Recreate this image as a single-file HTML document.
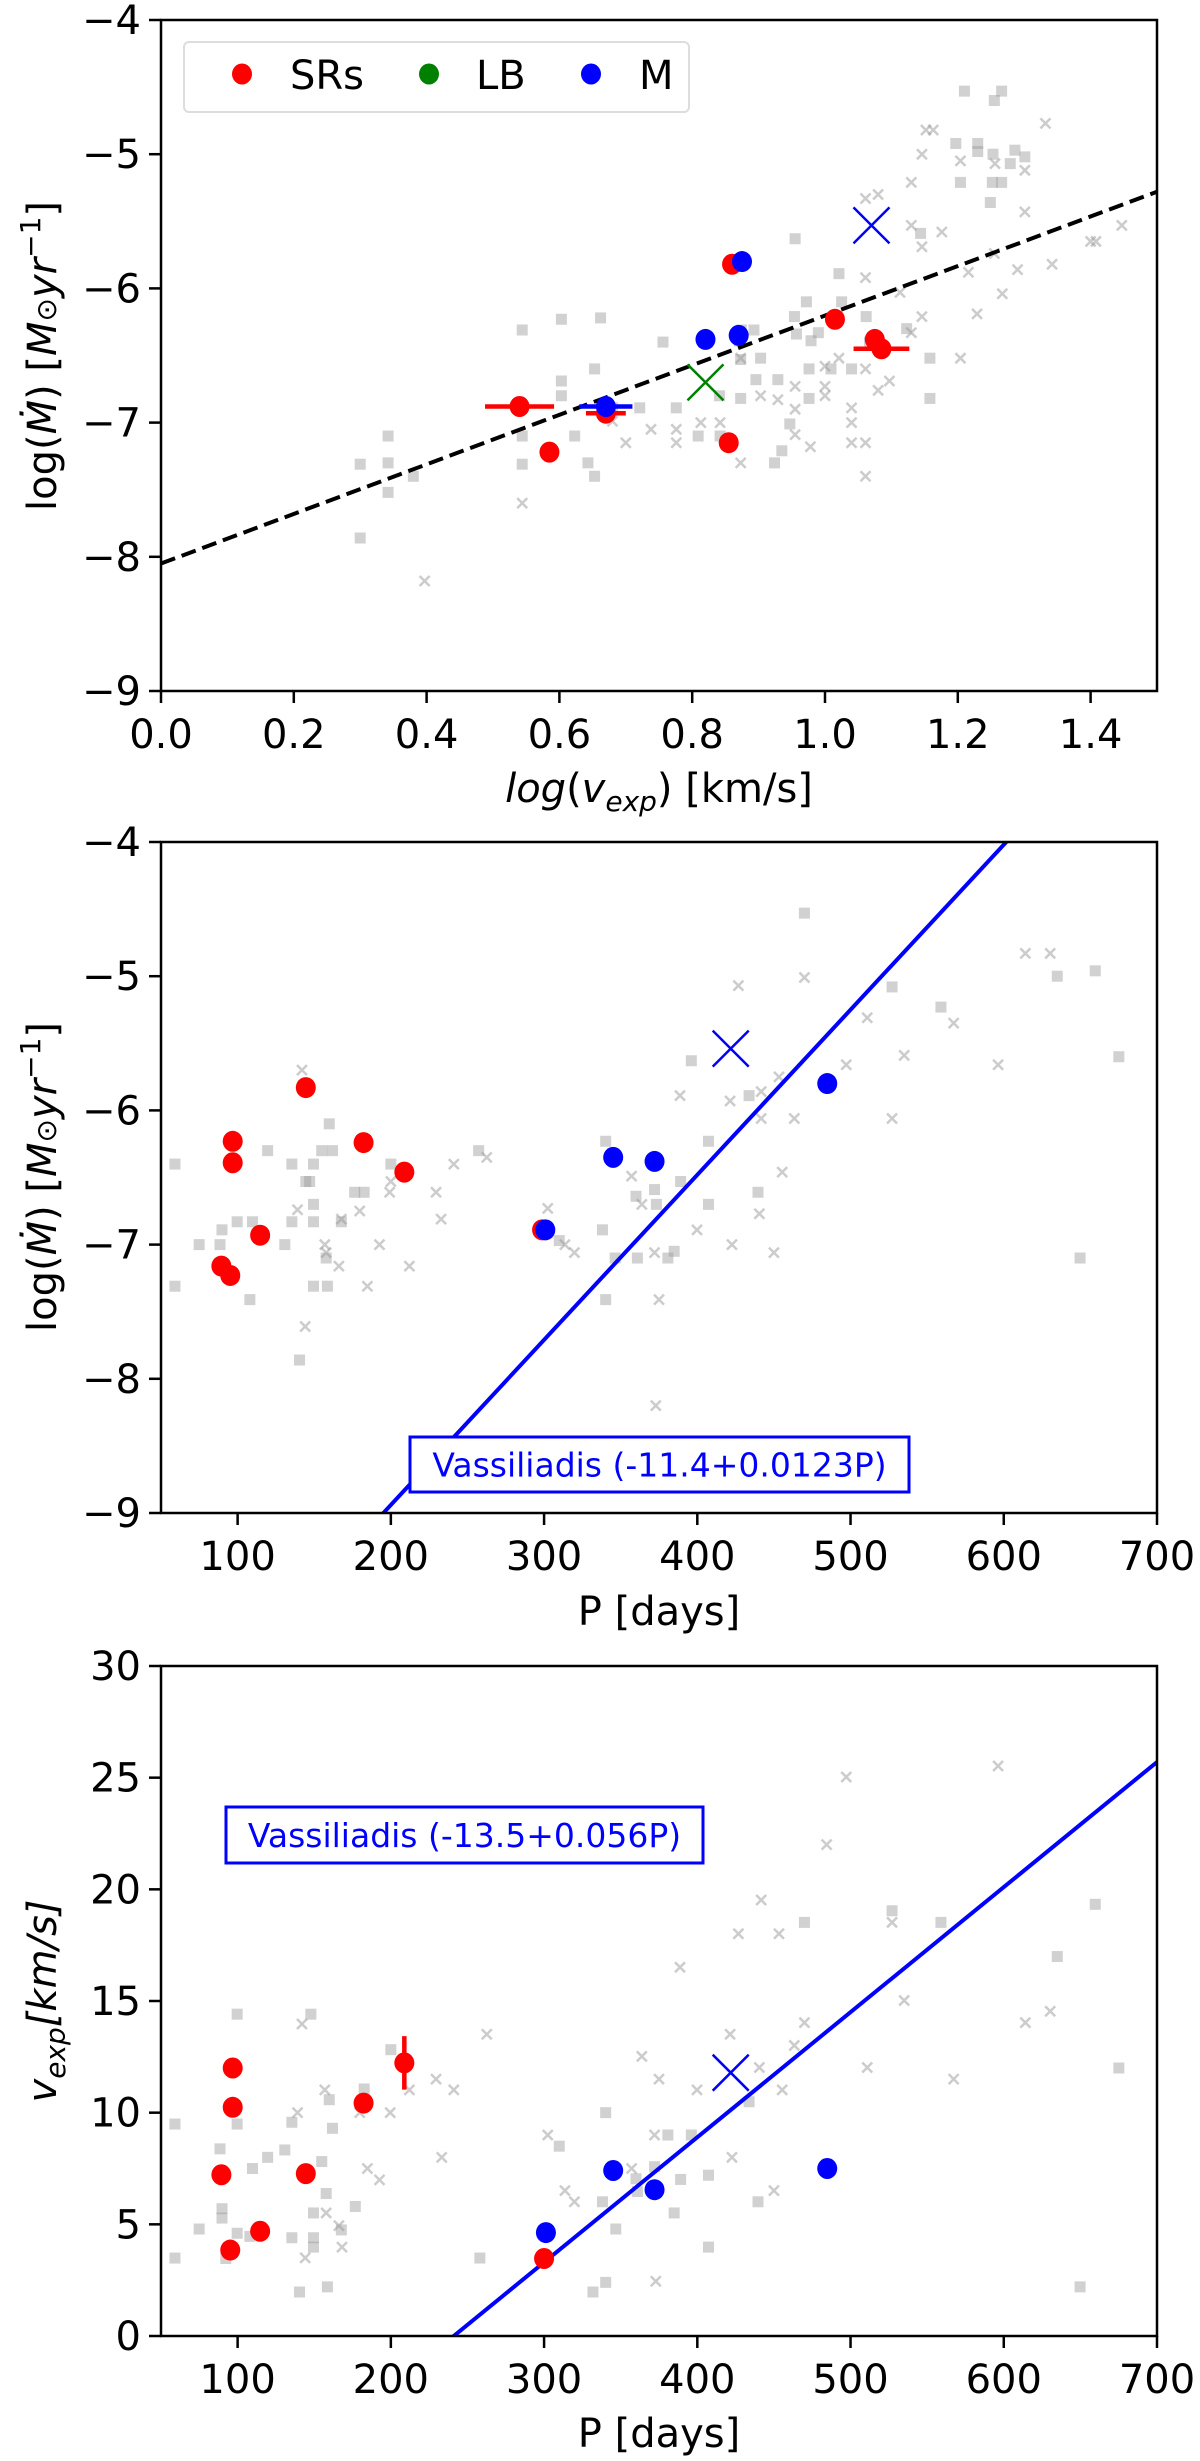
<!DOCTYPE html>
<html><head><meta charset="utf-8"><style>
html,body{margin:0;padding:0;background:#fff;}
svg{display:block;font-family:"DejaVu Sans","Liberation Sans",sans-serif;}
</style></head>
<body>
<svg id="fig" width="1200" height="2461" viewBox="0 0 1200 2461" xmlns="http://www.w3.org/2000/svg"></svg>
<script>
// ---------- Panel 1 data: log(vexp) vs log(Mdot) ----------
const p1GrayBoxX=[0.30,0.30,0.342,0.342,0.342,0.38,0.544,0.544,0.544,0.603,0.603,0.603,0.623,0.643,0.653,0.653,0.662,0.68,0.721,0.756,0.776,0.809,0.841,0.842,0.871,0.873,0.873,0.874,0.893,0.903,0.896,0.924,0.929,0.935,0.947,0.955,0.954,0.972,0.976,0.976,0.979,1.009,1.021,1.025,1.04,1.062,1.067,1.123,1.158,1.158,1.21,1.255,1.266,1.197,1.23,1.23,1.253,1.252,1.266,1.249,1.279,1.286,1.301,1.204,0.957,0.99,1.144];
const p1GrayBoxY=[-7.31,-7.86,-7.10,-7.30,-7.52,-7.40,-6.31,-7.10,-7.31,-6.23,-6.69,-6.80,-7.10,-7.30,-7.40,-6.60,-6.22,-6.89,-6.89,-6.40,-6.89,-7.10,-6.80,-7.10,-6.39,-6.53,-6.82,-6.31,-6.31,-6.52,-6.68,-7.30,-6.68,-7.21,-7.01,-5.63,-6.21,-6.10,-6.60,-6.82,-6.39,-6.60,-5.89,-6.10,-6.60,-6.21,-6.40,-6.30,-6.52,-6.82,-4.53,-4.60,-4.53,-4.92,-4.92,-4.98,-5.00,-5.21,-5.21,-5.36,-5.07,-4.97,-5.02,-5.21,-6.34,-6.33,-5.59];
const p1GrayCrossX=[0.397,0.544,0.68,0.70,0.738,0.776,0.776,0.813,0.842,0.873,0.873,0.903,0.929,0.955,0.955,0.955,0.978,1.0,1.0,1.0,1.021,1.04,1.04,1.04,1.061,1.061,1.061,1.061,1.061,1.08,1.08,1.097,1.113,1.13,1.13,1.13,1.146,1.146,1.146,1.152,1.163,1.176,1.204,1.204,1.216,1.229,1.255,1.256,1.267,1.29,1.301,1.301,1.332,1.342,1.40,1.408,1.447];
const p1GrayCrossY=[-8.18,-7.60,-6.99,-7.15,-7.05,-7.05,-7.15,-7.00,-7.00,-7.30,-6.52,-6.80,-6.83,-6.73,-6.90,-7.09,-7.18,-6.73,-6.80,-6.58,-6.52,-6.89,-7.00,-7.15,-7.15,-7.40,-6.60,-5.92,-5.33,-5.30,-6.76,-6.69,-6.03,-5.21,-5.53,-6.33,-5.00,-5.69,-6.21,-4.82,-4.82,-5.58,-5.05,-6.52,-5.88,-6.19,-5.74,-5.07,-6.04,-5.86,-5.12,-5.43,-4.77,-5.82,-5.65,-5.65,-5.53];
const p1SRx=[0.54,0.585,0.67,0.86,0.855,1.015,1.075,1.085];
const p1SRy=[-6.88,-7.22,-6.93,-5.82,-7.15,-6.23,-6.38,-6.45];
const p1SRxerr=[0.052,0,0.03,0,0,0,0,0.042];
const p1Mx=[0.67,0.82,0.87,0.875];
const p1My=[-6.88,-6.38,-6.35,-5.80];
const p1Mxerr=[0.04,0,0,0];
const p1BlueCross=[1.07,-5.53];
const p1GreenCross=[0.82,-6.70];
const p1Fit=[-8.05,1.847]; // intercept, slope
const p1XTicks=[0,0.2,0.4,0.6,0.8,1.0,1.2,1.4];
const p1XTickLabels=["0.0","0.2","0.4","0.6","0.8","1.0","1.2","1.4"];
const p1YTicks=[-9,-8,-7,-6,-5,-4];
const p1YTickLabels=["\u22129","\u22128","\u22127","\u22126","\u22125","\u22124"];

// ---------- Panel 2 data: P vs log(Mdot) ----------
const p2GrayBoxX=[59.1,59.1,74.9,88.5,89.8,99.7,108,109.7,119.6,130.8,135.4,135.4,140.4,144.5,147,149.5,149.5,149.5,149.5,154.9,158.6,159.8,161.9,157.8,167.7,176.4,182.6,200,257.3,309.9,338.1,340.2,340.2,346.4,360,360.9,372.1,373.3,380.8,384.9,389.1,396.1,407.3,407.3,433.8,439.6,469.9,527.1,559,634.9,659.7,649.8,675.1];
const p2GrayBoxY=[-6.40,-7.31,-7.00,-7.00,-6.89,-6.83,-7.41,-6.83,-6.30,-7.00,-6.40,-6.83,-7.86,-6.53,-6.53,-6.40,-6.70,-6.83,-7.31,-6.30,-7.31,-6.10,-6.30,-7.10,-6.83,-6.61,-6.61,-6.40,-6.30,-6.97,-6.89,-6.23,-7.41,-7.10,-6.64,-7.10,-6.59,-6.70,-7.10,-7.05,-6.53,-5.63,-6.23,-6.70,-5.89,-6.61,-4.53,-5.08,-5.23,-5.00,-4.96,-7.10,-5.60];
const p2GrayCrossX=[142,139.1,156.9,157.8,166.1,167.7,179.7,184.7,192.6,199.2,200,212.1,229.5,232.8,241.1,262.6,144.1,302.4,313.6,319.8,357.1,363.8,372.1,375,372.9,388.7,399.8,421.4,422.6,426.8,440.5,441.7,441.7,450,453.3,455.4,463.3,469.9,497.2,510.9,527.1,535,567.3,596.3,614.1,630.3];
const p2GrayCrossY=[-5.70,-6.74,-7.00,-7.06,-7.16,-6.81,-6.75,-7.31,-7.00,-6.61,-6.53,-7.16,-6.61,-6.81,-6.40,-6.35,-7.61,-6.73,-7.00,-7.06,-6.49,-6.70,-7.06,-7.41,-8.20,-5.89,-6.89,-5.93,-7.00,-5.07,-6.77,-5.86,-6.06,-7.06,-5.75,-6.46,-6.06,-5.01,-5.66,-5.31,-6.06,-5.59,-5.35,-5.66,-4.83,-4.83];
const p2SRx=[96.8,96.8,144.5,182.2,208.8,114.7,89.4,95.2,298.7];
const p2SRy=[-6.23,-6.39,-5.83,-6.24,-6.46,-6.93,-7.16,-7.23,-6.89];
const p2Mx=[300.8,345.1,372.1,484.8];
const p2My=[-6.89,-6.35,-6.38,-5.80];
const p2BlueCross=[421.8,-5.54];
const p2Fit=[-11.4,0.0123];
const pXTicks=[100,200,300,400,500,600,700];
const pXTickLabels=["100","200","300","400","500","600","700"];

// ---------- Panel 3 data: P vs vexp ----------
const p3GrayBoxX=[59.1,59.1,74.9,88.5,89.8,89.8,92.3,99.7,99.7,99.7,108,109.7,119.6,130.8,135.4,135.4,140.4,147.8,149.5,149.5,149.5,154.9,157.8,158.6,159.8,161.9,167.7,176.8,182.6,200,258.1,309.9,331.9,338.1,340.2,340.2,346.8,360,360.9,372.1,380.8,384.9,389.1,396.1,407.3,407.3,433.8,439.6,469.9,527.1,559,634.9,659.7,649.8,675.1];
const p3GrayBoxY=[9.49,3.49,4.79,8.38,5.70,5.28,3.47,14.41,9.49,4.60,4.46,7.50,8.00,8.33,9.57,4.40,1.97,14.41,5.51,4.40,3.98,7.81,6.38,2.20,10.58,9.30,4.75,5.80,11.06,12.82,3.49,8.50,1.97,6.01,10.0,2.40,4.79,7.04,6.47,7.58,9.0,5.51,7.01,9.0,7.20,3.98,10.49,6.01,18.52,19.04,18.52,16.99,19.33,2.20,12.0];
const p3GrayCrossX=[142,139.1,156.9,157.8,166.1,168.1,179.7,184.7,192.6,199.6,212.1,229.5,233.2,241.1,262.6,144.1,302.4,313.6,319.8,357.1,363.8,372.1,375,372.9,388.7,399.8,421.4,422.6,426.8,440.5,441.7,450,453.3,455.4,463.3,469.9,484.4,497.2,510.9,527.1,535,567.3,596.3,614.1,630.3];
const p3GrayCrossY=[13.97,10.0,11.02,5.51,4.94,3.98,10.0,7.50,6.99,10.0,11.02,11.5,8.0,11.02,13.51,3.50,9.0,6.51,6.01,7.50,12.52,9.0,11.5,2.45,16.51,11.02,13.51,8.0,18.01,12.02,19.52,6.51,18.01,11.02,13.01,14.03,22.0,25.03,12.02,18.52,15.02,11.5,25.52,14.03,14.54];
const p3SRx=[96.8,96.8,89.4,144.5,114.7,95.2,182.2,208.8,300];
const p3SRy=[12.0,10.24,7.22,7.27,4.69,3.85,10.43,12.23,3.47];
const p3SRyerr=[0,0,0,0,0,0,0,1.2,0];
const p3Mx=[301.2,345.1,372.1,484.8];
const p3My=[4.63,7.41,6.55,7.50];
const p3BlueCross=[421.8,11.79];
const p3Fit=[-13.5,0.056];
const p3YTicks=[0,5,10,15,20,25,30];
const p3YTickLabels=["0","5","10","15","20","25","30"];

const NS="http://www.w3.org/2000/svg";
const svg=document.getElementById('fig');
function el(tag,attrs,parent){const e=document.createElementNS(NS,tag);for(const k in attrs)e.setAttribute(k,attrs[k]);(parent||svg).appendChild(e);return e;}

function makeAxes(name,x0,x1,y0,y1,xmin,xmax,ymin,ymax){
  const g=el('g',{});
  
  
  const clipId=name+'-clip';
  const cp=el('clipPath',{id:clipId},g);
  el('rect',{x:x0,y:y0,width:x1-x0,height:y1-y0},cp);
  const plot=el('g',{'clip-path':'url(#'+clipId+')'},g);
  
  
  return {g,plot,x0,x1,y0,y1,
    sx:v=>x0+(v-xmin)/(xmax-xmin)*(x1-x0),
    sy:v=>y1-(v-ymin)/(ymax-ymin)*(y1-y0),xmin,xmax,ymin,ymax};
}
function frame(A){
  const r=el('rect',{x:A.x0,y:A.y0,width:A.x1-A.x0,height:A.y1-A.y0,fill:'none',stroke:'#000','stroke-width':2.5},A.g);
  
  
}
function xTicks(A,ticks,labels){
  ticks.forEach((t,i)=>{
    const x=A.sx(t);
    const l=el('line',{x1:x,x2:x,y1:A.y1,y2:A.y1+12,stroke:'#000','stroke-width':2.5},A.g);
    
    
    const tx=el('text',{x:x,y:A.y1+57,'text-anchor':'middle','font-size':40,fill:'#000'},A.g);
    
    
    tx.textContent=labels[i];
  });
}
function yTicks(A,ticks,labels){
  ticks.forEach((t,i)=>{
    const y=A.sy(t);
    const l=el('line',{x1:A.x0-12,x2:A.x0,y1:y,y2:y,stroke:'#000','stroke-width':2.5},A.g);
    
    
    const tx=el('text',{x:A.x0-20,y:y+14,'text-anchor':'end','font-size':40,fill:'#000'},A.g);
    
    
    tx.textContent=labels[i];
  });
}
function grayBoxes(A,xs,ys){
  xs.forEach((x,i)=>{
    const r=el('rect',{x:A.sx(x)-5.5,y:A.sy(ys[i])-5.5,width:11,height:11,fill:'#999','fill-opacity':0.45},A.plot);
    
    
  });
}
function grayCrosses(A,xs,ys){
  xs.forEach((x,i)=>{
    const cx=A.sx(x),cy=A.sy(ys[i]),s=5;
    const p=el('path',{d:`M${cx-s},${cy-s}L${cx+s},${cy+s}M${cx-s},${cy+s}L${cx+s},${cy-s}`,stroke:'#999','stroke-opacity':0.5,'stroke-width':2.5,fill:'none'},A.plot);
    
    
  });
}
function dots(A,xs,ys,color,name,xerr,yerr){
  xs.forEach((x,i)=>{
    const cx=A.sx(x),cy=A.sy(ys[i]);
    if(xerr&&xerr[i]>0){
      const e=el('line',{x1:A.sx(x-xerr[i]),x2:A.sx(x+xerr[i]),y1:cy,y2:cy,stroke:color,'stroke-width':4.5},A.plot);
      
      
    }
    if(yerr&&yerr[i]>0){
      const e=el('line',{x1:cx,x2:cx,y1:A.sy(ys[i]-yerr[i]),y2:A.sy(ys[i]+yerr[i]),stroke:color,'stroke-width':4.5},A.plot);
      
      
    }
    const c=el('ellipse',{cx:cx,cy:cy,rx:10,ry:10.5,fill:color},A.plot);
    
    
  });
}
function bigCross(A,pt,color,name){
  const cx=A.sx(pt[0]),cy=A.sy(pt[1]),sx=18,sy=18;
  const p=el('path',{d:`M${cx-sx},${cy-sy}L${cx+sx},${cy+sy}M${cx-sx},${cy+sy}L${cx+sx},${cy-sy}`,stroke:color,'stroke-width':2.5,fill:'none'},A.plot);
  
  
}
function fitLine(A,fit,style,name){
  const a=el('line',Object.assign({x1:A.sx(A.xmin),y1:A.sy(fit[0]+fit[1]*A.xmin),x2:A.sx(A.xmax),y2:A.sy(fit[0]+fit[1]*A.xmax)},style),A.plot);
  
  
}
function mdotLabel(cy){
  const t=el('text',{transform:`translate(56,${cy}) rotate(-90)`,'text-anchor':'middle','font-size':40,fill:'#000'});
  
  
  t.innerHTML='log(<tspan font-style="italic">Ṁ</tspan>) [<tspan font-style="italic">M</tspan><tspan font-size="28">⊙</tspan><tspan font-style="italic">yr</tspan><tspan font-size="28" dy="-16">−1</tspan><tspan dy="16">]</tspan>';
}
function xTitle(x,y,html){
  const t=el('text',{x:x,y:y,'text-anchor':'middle','font-size':40,fill:'#000'});
  
  
  t.innerHTML=html;
}
function fitBox(x,y,w,h,text){
  const r=el('rect',{x:x,y:y,width:w,height:h,fill:'#fff',stroke:'#0000ff','stroke-width':3});
  
  
  const t=el('text',{x:x+w/2,y:y+h/2+12,'text-anchor':'middle','font-size':33,fill:'#0000ff'});
  
  
  t.textContent=text;
}

// ===== Panel 1 =====
const A1=makeAxes('panel-mdot-vs-vexp',161,1157,20,691,0,1.5,-9,-4);
grayBoxes(A1,p1GrayBoxX,p1GrayBoxY);
grayCrosses(A1,p1GrayCrossX,p1GrayCrossY);
fitLine(A1,p1Fit,{stroke:'#000','stroke-width':4,'stroke-dasharray':'15,7'},'dashed-fit-line');
dots(A1,p1SRx,p1SRy,'#ff0000','sr',p1SRxerr,null);
dots(A1,p1Mx,p1My,'#0000ff','mira',p1Mxerr,null);
bigCross(A1,p1BlueCross,'#0000ff','mira-cross-marker');
bigCross(A1,p1GreenCross,'#008000','lb-cross-marker');
frame(A1);
xTicks(A1,p1XTicks,p1XTickLabels);
yTicks(A1,p1YTicks,p1YTickLabels);
mdotLabel(356);
xTitle(659,802,'<tspan font-style="italic">log</tspan>(<tspan font-style="italic">v</tspan><tspan font-style="italic" font-size="28" dy="9">exp</tspan><tspan dy="-9">) [km/s]</tspan>');
// legend
(function(){
  const lg=el('g',{});
  
  
  const r=el('rect',{x:184,y:42,width:505,height:70,rx:5,fill:'#fff',stroke:'#ddd','stroke-width':2},lg);
  
  
  const items=[['SRs','#ff0000',242,290],['LB','#008000',429,476],['M','#0000ff',591,639]];
  items.forEach(it=>{
    const c=el('ellipse',{cx:it[2],cy:74,rx:10,ry:10.5,fill:it[1]},lg);
    
    
    const t=el('text',{x:it[3],y:89,'font-size':40,fill:'#000'},lg);
    
    
    t.textContent=it[0];
  });
})();

// ===== Panel 2 =====
const A2=makeAxes('panel-mdot-vs-period',161,1157,842,1513,50,700,-9,-4);
grayBoxes(A2,p2GrayBoxX,p2GrayBoxY);
grayCrosses(A2,p2GrayCrossX,p2GrayCrossY);
fitLine(A2,p2Fit,{stroke:'#0000ff','stroke-width':4},'vassiliadis-fit-line');
dots(A2,p2SRx,p2SRy,'#ff0000','sr',null,null);
dots(A2,p2Mx,p2My,'#0000ff','mira',null,null);
bigCross(A2,p2BlueCross,'#0000ff','mira-cross-marker');
frame(A2);
xTicks(A2,pXTicks,pXTickLabels);
yTicks(A2,p1YTicks,p1YTickLabels);
mdotLabel(1177);
xTitle(659,1625,'P [days]');
fitBox(410,1437,499,55,'Vassiliadis (-11.4+0.0123P)');

// ===== Panel 3 =====
const A3=makeAxes('panel-vexp-vs-period',161,1157,1666,2336,50,700,0,30);
grayBoxes(A3,p3GrayBoxX,p3GrayBoxY);
grayCrosses(A3,p3GrayCrossX,p3GrayCrossY);
fitLine(A3,p3Fit,{stroke:'#0000ff','stroke-width':4},'vassiliadis-fit-line');
dots(A3,p3SRx,p3SRy,'#ff0000','sr',null,p3SRyerr);
dots(A3,p3Mx,p3My,'#0000ff','mira',null,null);
bigCross(A3,p3BlueCross,'#0000ff','mira-cross-marker');
frame(A3);
xTicks(A3,pXTicks,pXTickLabels);
yTicks(A3,p3YTicks,p3YTickLabels);
(function(){
  const t=el('text',{transform:'translate(56,2001) rotate(-90)','text-anchor':'middle','font-size':40,fill:'#000'});
  
  
  t.innerHTML='<tspan font-style="italic">v</tspan><tspan font-style="italic" font-size="28" dy="9">exp</tspan><tspan dy="-9" font-style="italic">[km/s]</tspan>';
})();
xTitle(659,2447,'P [days]');
fitBox(226,1807,477,56,'Vassiliadis (-13.5+0.056P)');
</script>
</body></html>
